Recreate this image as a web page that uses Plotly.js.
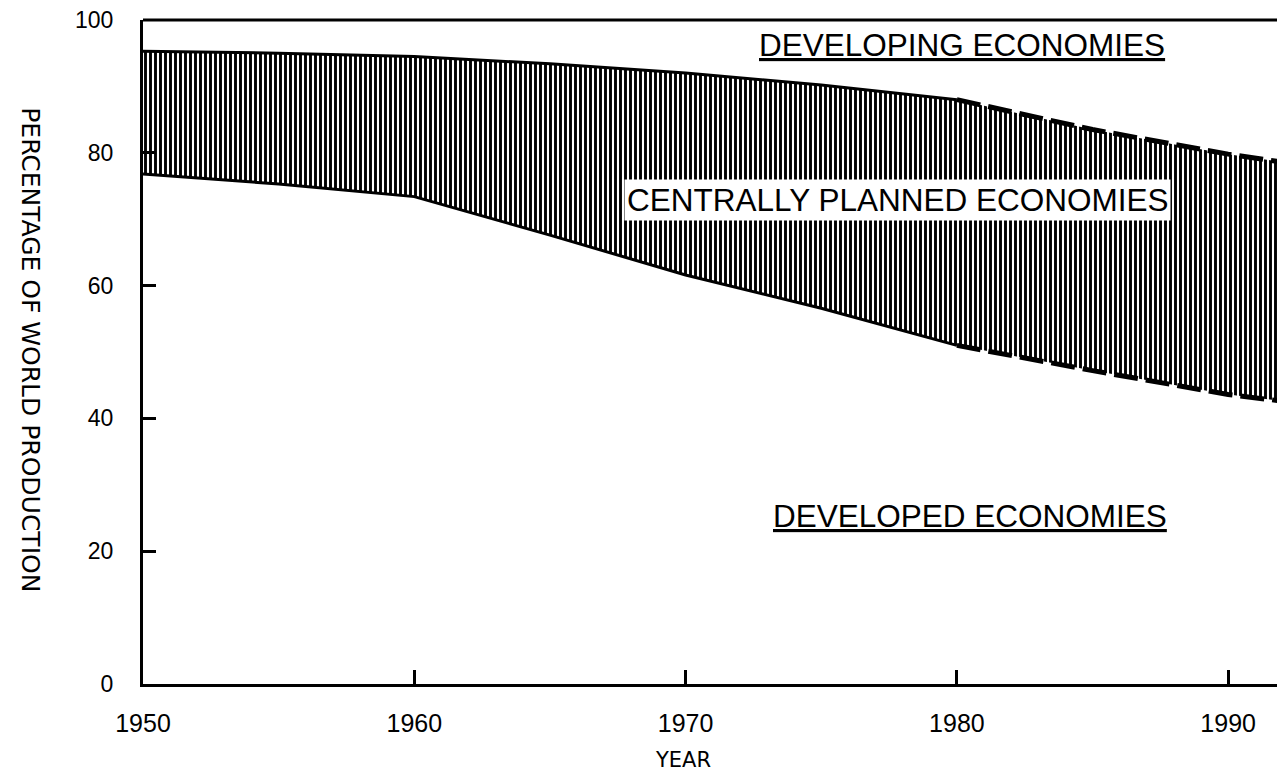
<!DOCTYPE html>
<html>
<head>
<meta charset="utf-8">
<script src="https://cdn.plot.ly/plotly-3.0.1.min.js"></script>
<style>
  html, body { margin: 0; padding: 0; background: #ffffff; }
  #chart { width: 1277px; height: 776px; }
</style>
</head>
<body>
<div id="chart"></div>
<script>
// ---- data ----
const years      = [1950, 1955, 1960, 1965, 1970, 1975, 1980, 1985, 1990, 1992];
const upperShare = [95.3, 95.0, 94.5, 93.4, 92.0, 90.2, 88.0, 83.5, 79.8, 78.6]; // developed + centrally planned
const lowerShare = [76.8, 75.3, 73.4, 67.6, 61.6, 56.6, 51.0, 47.2, 43.6, 42.6]; // developed
const projectionStart = 1980;
const xTicks = [1950, 1960, 1970, 1980, 1990];
const yTicks = [0, 20, 40, 60, 80, 100];
const regionLabels = ["DEVELOPING ECONOMIES", "CENTRALLY PLANNED ECONOMIES", "DEVELOPED ECONOMIES"];
const labelYears   = [1980.2, 1977.8, 1980.5];
const labelValues  = [96.2, 72.9, 25.3];
const xTitle = "YEAR";
const yTitle = "PERCENTAGE OF WORLD PRODUCTION";

// split into actual (solid) and projected (dashed) parts
const k = years.indexOf(projectionStart);
const yrsA = years.slice(0, k + 1), yrsP = years.slice(k);
const upA = upperShare.slice(0, k + 1), upP = upperShare.slice(k);
const loA = lowerShare.slice(0, k + 1), loP = lowerShare.slice(k);

const font = "Liberation Sans, Arial, sans-serif";
const wideFont = "DejaVu Sans, Verdana, sans-serif";
const lineW = 3;

const traces = [
  { x: years, y: lowerShare, mode: 'lines', line: {width: 0, color: 'black'}, hoverinfo: 'skip', showlegend: false },
  { x: years, y: upperShare, mode: 'lines', line: {width: 0, color: 'black'}, fill: 'tonexty',
    fillcolor: 'rgba(255,255,255,0)',
    fillpattern: {shape: '|', size: 5, solidity: 0.58, fgcolor: 'black', bgcolor: 'white', fillmode: 'replace'},
    hoverinfo: 'skip', showlegend: false },
  { x: yrsA, y: upA, mode: 'lines', line: {width: lineW, color: 'black'}, showlegend: false },
  { x: yrsA, y: loA, mode: 'lines', line: {width: lineW, color: 'black'}, showlegend: false },
  { x: yrsP, y: upP, mode: 'lines', line: {width: lineW + 2, color: 'black', dash: '24px,8px'}, showlegend: false },
  { x: yrsP, y: loP, mode: 'lines', line: {width: lineW + 2, color: 'black', dash: '24px,8px'}, showlegend: false }
];

const annotations = regionLabels.map((t, i) => ({
  x: labelYears[i], y: labelValues[i], xref: 'x', yref: 'y',
  text: i === 1 ? t : '<u>' + t + '</u>',
  showarrow: false,
  font: {family: font, size: 31.5, color: 'black'},
  bgcolor: i === 1 ? 'white' : 'rgba(0,0,0,0)',
  borderpad: 2
}));
annotations.push({
  xref: 'paper', yref: 'paper', x: -0.099, y: 0.503, xanchor: 'center', yanchor: 'middle',
  text: yTitle, textangle: 90, showarrow: false,
  font: {family: wideFont, size: 25, color: 'black'}
});
annotations.push({
  xref: 'paper', yref: 'paper', x: 0.476, y: -0.114, xanchor: 'center', yanchor: 'middle',
  text: xTitle, showarrow: false,
  font: {family: wideFont, size: 21, color: 'black'}
});

const layout = {
  width: 1277, height: 776,
  margin: {l: 143, r: 0, t: 20, b: 92},
  paper_bgcolor: 'white', plot_bgcolor: 'white',
  showlegend: false,
  xaxis: {
    range: [1950, 1991.8], tickvals: xTicks, ticktext: xTicks.map(String),
    ticks: 'inside', ticklen: 14, tickwidth: 3, tickcolor: 'black',
    showline: true, linewidth: 3, linecolor: 'black', showgrid: false, zeroline: false,
    ticklabelstandoff: 15,
    tickfont: {family: font, size: 25, color: 'black'}
  },
  yaxis: {
    range: [0, 100], tickvals: yTicks, ticktext: yTicks.map(String),
    ticks: 'inside', ticklen: 13, tickwidth: 3, tickcolor: 'black',
    showline: true, linewidth: 3, linecolor: 'black', showgrid: false, zeroline: false,
    ticklabelstandoff: 22,
    tickfont: {family: font, size: 23, color: 'black'}
  },
  shapes: [
    {type: 'line', xref: 'paper', yref: 'paper', x0: 0, x1: 1, y0: 1, y1: 1, line: {color: 'black', width: 3}}
  ],
  annotations: annotations
};

Plotly.newPlot('chart', traces, layout, {displayModeBar: false, staticPlot: true});
</script>
</body>
</html>
